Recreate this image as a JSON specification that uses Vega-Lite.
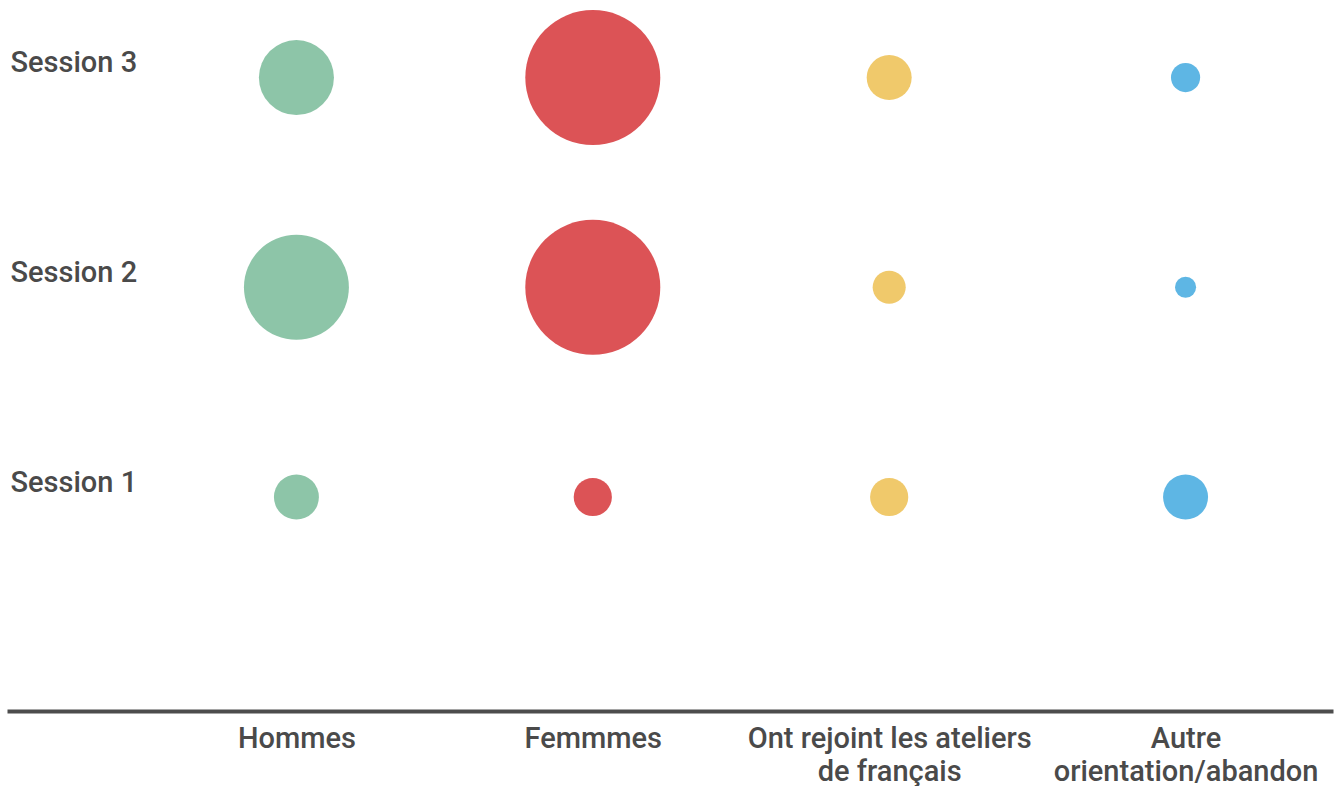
{
  "$schema": "https://vega.github.io/schema/vega-lite/v6.json",
  "width": 1326,
  "height": 711,
  "padding": {"left": 7, "top": 0, "right": 8, "bottom": 0},
  "autosize": {"type": "pad"},
  "background": "white",
  "config": {
    "view": {"stroke": null},
    "font": "Roboto"
  },
  "data": {
    "values": [
      {"session": "Session 3", "categorie": "Hommes", "valeur": 13.9},
      {"session": "Session 3", "categorie": "Femmmes", "valeur": 45},
      {"session": "Session 3", "categorie": "Ont rejoint les ateliers de français", "valeur": 5},
      {"session": "Session 3", "categorie": "Autre orientation/abandon", "valeur": 2.1},
      {"session": "Session 2", "categorie": "Hommes", "valeur": 27.2},
      {"session": "Session 2", "categorie": "Femmmes", "valeur": 45},
      {"session": "Session 2", "categorie": "Ont rejoint les ateliers de français", "valeur": 2.7},
      {"session": "Session 2", "categorie": "Autre orientation/abandon", "valeur": 1.1},
      {"session": "Session 1", "categorie": "Hommes", "valeur": 5},
      {"session": "Session 1", "categorie": "Femmmes", "valeur": 3.6},
      {"session": "Session 1", "categorie": "Ont rejoint les ateliers de français", "valeur": 3.6},
      {"session": "Session 1", "categorie": "Autre orientation/abandon", "valeur": 5}
    ]
  },
  "mark": {"type": "circle", "opacity": 1},
  "encoding": {
    "x": {
      "field": "categorie",
      "type": "nominal",
      "sort": ["Hommes", "Femmmes", "Ont rejoint les ateliers de français", "Autre orientation/abandon"],
      "scale": {"type": "point", "padding": 0.737, "align": 0.6625},
      "axis": {
        "title": null,
        "orient": "bottom",
        "domain": true,
        "domainColor": "#4d4d4d",
        "domainWidth": 4,
        "ticks": false,
        "tickSize": 0,
        "grid": false,
        "labelAngle": 0,
        "labelFont": "Roboto",
        "labelFontSize": 29,
        "labelFontWeight": 500,
        "labelColor": "#4a4a4a",
        "labelAlign": "center",
        "labelBaseline": "alphabetic",
        "labelLineHeight": 33,
        "labelLimit": 500,
        "labelOverlap": false,
        "labelBound": false,
        "labelPadding": 36,
        "labelExpr": "datum.value === 'Ont rejoint les ateliers de français' ? ['Ont rejoint les ateliers', 'de français'] : datum.value === 'Autre orientation/abandon' ? ['Autre', 'orientation/abandon'] : datum.value"
      }
    },
    "y": {
      "field": "session",
      "type": "nominal",
      "sort": ["Session 3", "Session 2", "Session 1"],
      "scale": {"type": "point", "padding": 0.695, "align": 0.266},
      "axis": {
        "title": null,
        "orient": "left",
        "domain": false,
        "ticks": false,
        "tickSize": 0,
        "grid": false,
        "labelFont": "Roboto",
        "labelFontSize": 29,
        "labelFontWeight": 500,
        "labelColor": "#4a4a4a",
        "labelAlign": "left",
        "labelBaseline": "alphabetic",
        "labelPadding": -3,
        "labelOffset": -6,
        "labelLimit": 500,
        "labelBound": false
      }
    },
    "size": {
      "field": "valeur",
      "type": "quantitative",
      "scale": {"type": "linear", "domain": [0, 45], "range": [0, 18225], "zero": true},
      "legend": null
    },
    "color": {
      "field": "categorie",
      "type": "nominal",
      "scale": {
        "domain": ["Hommes", "Femmmes", "Ont rejoint les ateliers de français", "Autre orientation/abandon"],
        "range": ["#8dc5a8", "#dc5356", "#f0c96b", "#5eb6e4"]
      },
      "legend": null
    }
  }
}
